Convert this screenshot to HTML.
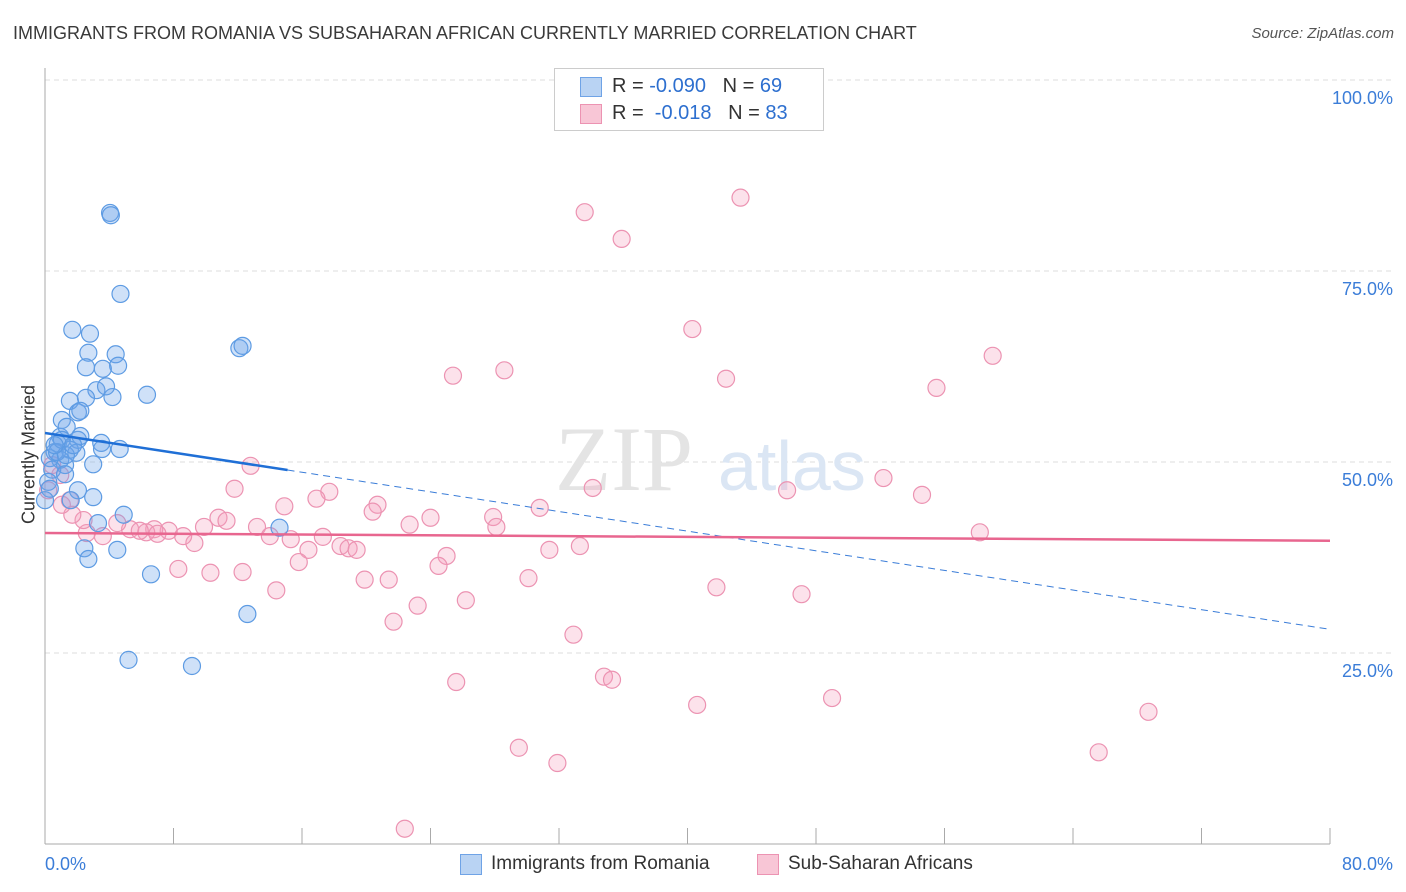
<!DOCTYPE html>
<html><head><meta charset="utf-8"><style>
body{margin:0;background:#fff;font-family:"Liberation Sans",sans-serif}
#w{position:relative;width:1406px;height:892px;overflow:hidden}
.t{position:absolute;white-space:nowrap}
</style></head><body>
<div id="w">
<div class="t" style="left:13px;top:23px;font-size:18px;color:#3a3a3a">IMMIGRANTS FROM ROMANIA VS SUBSAHARAN AFRICAN CURRENTLY MARRIED CORRELATION CHART</div>
<div class="t" style="right:12px;top:25px;font-size:15px;color:#555;font-style:italic">Source: ZipAtlas.com</div>
<svg id="s" width="1406" height="892" style="position:absolute;left:0;top:0"></svg>
</div>
<script>
const blueX=[4.05,4.1,4.7,1.7,2.8,2.7,4.4,2.55,4.55,3.6,12.1,12.3,6.35,4.2,3.2,3.8,1.55,2.55,2.05,1.05,2.2,0.95,1.35,2.05,1.55,1.95,3.5,3.55,4.65,0.8,0.6,0.95,3.0,2.2,1.25,0.3,0.45,0.2,0.3,1.25,2.05,3.0,1.6,4.9,3.3,2.45,4.5,2.7,6.6,12.6,5.2,9.15,14.6,0,0.75,1.05,1.3,1.75,0.6];
const blueY=[82.6,82.3,72.0,67.3,66.8,64.3,64.1,62.4,62.6,62.2,64.9,65.2,58.8,58.5,59.4,59.9,58.0,58.4,56.5,55.5,56.7,53.3,54.6,52.9,51.6,51.2,52.5,51.7,51.7,52.4,51.3,50.3,49.7,53.4,49.6,50.5,49.0,47.4,46.5,48.4,46.3,45.4,45.0,43.1,42.0,38.7,38.5,37.3,35.3,30.1,24.1,23.3,41.4,45.0,51.3,52.9,50.9,52.2,52.2];
const pinkX=[43.3,33.6,35.9,40.3,59.0,28.6,25.4,42.4,55.5,52.2,54.6,46.2,34.1,30.8,12.8,11.8,17.7,16.9,20.7,20.4,14.9,24.0,22.7,27.9,28.1,10.8,11.3,9.9,13.2,14.0,15.3,17.3,58.2,16.4,18.4,18.9,19.4,15.8,25.0,24.5,31.4,33.3,19.9,21.4,30.1,26.2,23.2,21.7,14.4,41.8,47.1,32.9,34.8,35.3,25.6,40.6,49.0,68.7,65.6,29.5,31.9,22.4,8.3,10.3,12.3,9.3,8.6,7.7,6.8,6.3,5.3,4.5,3.6,2.6,2.4,1.7,1.05,1.55,0.95,0.45,0.2,5.9,7.0];
const pinkY=[84.6,82.7,79.2,67.4,63.9,62.0,61.3,60.9,59.7,47.9,45.7,46.3,46.6,44.0,49.5,46.5,46.1,45.2,44.4,43.5,44.2,42.7,41.8,42.8,41.5,42.7,42.3,41.5,41.5,40.3,39.9,40.2,40.8,38.5,39.0,38.7,38.5,36.9,37.7,36.4,38.5,39.0,34.6,34.6,34.8,31.9,31.2,29.1,33.2,33.6,32.7,27.4,21.9,21.5,21.2,18.2,19.1,17.3,12.0,12.6,10.6,2.0,36.0,35.5,35.6,39.4,40.3,41.0,41.2,40.8,41.2,42.0,40.3,40.7,42.4,43.1,44.4,45.0,48.3,49.6,46.3,41.0,40.6];
const blueTrend=[53.8,28.1]; const blueSolidEnd=15.1;
const pinkTrend=[40.7,39.7];
const yTicks=[25,50,75,100];
const xTicks=[0,10,20,30,40,50,60,70,80];
const NS='http://www.w3.org/2000/svg';
const s=document.getElementById('s');
const X=v=>45+v/80*1285, Y=v=>844-v*7.64;
function el(t,a,p){const e=document.createElementNS(NS,t);for(const k in a)e.setAttribute(k,a[k]);(p||s).appendChild(e);return e;}
// gridlines
yTicks.forEach(v=>{
const g=el('line',{x1:45,x2:1393,y1:Y(v),y2:Y(v),stroke:'#ddd','stroke-dasharray':'5,4'});


const t=el('text',{x:1393,y:Y(v)+24,'text-anchor':'end','font-size':18,fill:'#3b7dd8'});
t.textContent=v.toFixed(1)+'%';


});
// axes
const ax=el('line',{x1:45,x2:45,y1:68,y2:844,stroke:'#aaa'});


const bx=el('line',{x1:45,x2:1330,y1:844,y2:844,stroke:'#aaa'});


for(let i=0;i<=10;i++){const v=i*8;
const tk=el('line',{x1:X(v),x2:X(v),y1:828,y2:844,stroke:'#aaa'});

}
[[0,'0.0%','start',45],[80,'80.0%','end',1393]].forEach(d=>{
const t=el('text',{x:d[3],y:870,'text-anchor':d[2],'font-size':18,fill:'#3b7dd8'});t.textContent=d[1];

});
// watermark
const wm=el('text',{x:555,y:490,'font-size':92,fill:'#e4e4e4','font-family':'Liberation Serif'});wm.textContent='ZIP';


const wm2=el('text',{x:718,y:490,'font-size':70,fill:'#dbe6f4'});wm2.textContent='atlas';


// points
pinkX.forEach((x,i)=>{const c=el('circle',{cx:X(x),cy:Y(pinkY[i]),r:8.5,fill:'rgba(244,160,190,0.3)',stroke:'#ec93b2','stroke-width':1.2});

});
blueX.forEach((x,i)=>{const c=el('circle',{cx:X(x),cy:Y(blueY[i]),r:8.5,fill:'rgba(110,165,235,0.33)',stroke:'#5d9be3','stroke-width':1.2});

});
// trends
const by=x=>blueTrend[0]+(blueTrend[1]-blueTrend[0])*x/80;
const l1=el('line',{x1:X(0),y1:Y(by(0)),x2:X(blueSolidEnd),y2:Y(by(blueSolidEnd)),stroke:'#1f6fd6','stroke-width':2.5});


const l2=el('line',{x1:X(blueSolidEnd),y1:Y(by(blueSolidEnd)),x2:X(80),y2:Y(by(80)),stroke:'#3b7dd8','stroke-width':1,'stroke-dasharray':'7,5'});


const l3=el('line',{x1:X(0),y1:Y(pinkTrend[0]),x2:X(80),y2:Y(pinkTrend[1]),stroke:'#e8668f','stroke-width':2.5});


</script>
<div class="t" style="left:-46px;top:444px;transform:rotate(-90deg);font-size:18px;color:#333;width:150px;text-align:center">Currently Married</div>
<div style="position:absolute;left:554px;top:68px;width:268px;height:61px;border:1px solid #ccc;background:#fff;font-size:20px;color:#333">
<div style="position:absolute;left:25px;top:8px;width:20px;height:18px;background:#b9d3f3;border:1px solid #6fa3e6"></div>
<div class="t" style="left:57px;top:6px">R = <span style="color:#2d6fcf">-0.090</span>&nbsp;&nbsp;&nbsp;N = <span style="color:#2d6fcf">69</span></div>
<div style="position:absolute;left:25px;top:35px;width:20px;height:18px;background:#f8c6d6;border:1px solid #ec93b2"></div>
<div class="t" style="left:57px;top:33px">R = &nbsp;<span style="color:#2d6fcf">-0.018</span>&nbsp;&nbsp;&nbsp;N = <span style="color:#2d6fcf">83</span></div>
</div>
<div style="position:absolute;left:460px;top:854px;font-size:19px;color:#333">
<div style="position:absolute;left:0;top:0;width:20px;height:19px;background:#b9d3f3;border:1px solid #6fa3e6"></div>
<div class="t" style="left:31px;top:-1px">Immigrants from Romania</div></div>
<div style="position:absolute;left:757px;top:854px;font-size:19px;color:#333">
<div style="position:absolute;left:0;top:0;width:20px;height:19px;background:#f8c6d6;border:1px solid #ec93b2"></div>
<div class="t" style="left:31px;top:-1px">Sub-Saharan Africans</div></div>
</body></html>
